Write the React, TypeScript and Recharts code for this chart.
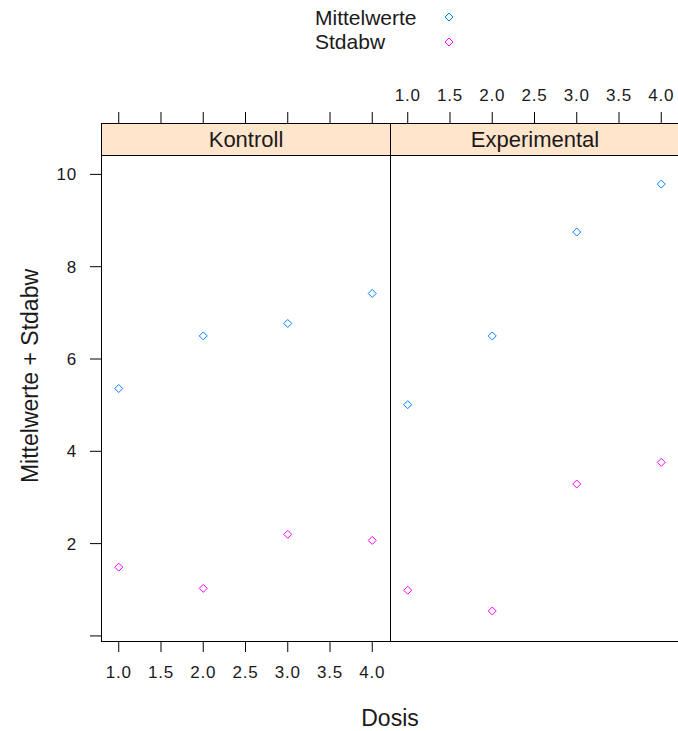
import React from "react";
import { ScatterChart, Scatter, XAxis, YAxis } from "recharts";

// ---- data ----
const doses = [1, 2, 3, 4];
const panelNames = ["Kontroll", "Experimental"];
const seriesNames = ["Mittelwerte", "Stdabw"];
const kontrollMittelwerte = [5.36, 6.5, 6.77, 7.42];
const kontrollStdabw = [1.49, 1.03, 2.2, 2.07];
const experimentalMittelwerte = [5.01, 6.5, 8.75, 9.79];
const experimentalStdabw = [0.99, 0.54, 3.29, 3.76];
const xTicks = [1, 1.5, 2, 2.5, 3, 3.5, 4];
const yTicks = [0, 2, 4, 6, 8, 10];
const yTickLabels = ["", "2", "4", "6", "8", "10"];
const xTitle = "Dosis";
const yTitle = "Mittelwerte + Stdabw";

// ---- style / layout ----
const seriesColors = ["#0080ff", "#ff00ff"];
const stripColor = "#ffe5cc";
const FONT = "'Liberation Sans', Arial, sans-serif";
const TEXT = "#1a1a1a";
const PLOT_TOP = 155;
const PLOT_BOTTOM = 641;
const STRIP_TOP = 123;
const LEFT = 101;
const PW = 289;
const X_DOMAIN: [number, number] = [0.79, 4.21];
const Y_DOMAIN: [number, number] = [-0.11, 10.42];

const toPoints = (ys: number[]) => doses.map((d, i) => ({ x: d, y: ys[i] }));
const panelSeries = [
  [toPoints(kontrollMittelwerte), toPoints(kontrollStdabw)],
  [toPoints(experimentalMittelwerte), toPoints(experimentalStdabw)],
];

const fmtX = (v: number) => v.toFixed(1);
const tickStyle = { fontSize: 17, fill: TEXT, fontFamily: FONT, letterSpacing: 0.8 };

const Diamond = (props: any) => {
  const { cx, cy, color } = props;
  if (cx == null || cy == null) return null;
  const r = 4;
  return (
    <path
      d={`M${cx},${cy - r}L${cx + r},${cy}L${cx},${cy + r}L${cx - r},${cy}Z`}
      fill="none"
      stroke={color}
      strokeWidth={1}
    />
  );
};

const TopTick = (props: any) => {
  const { x, payload, showLabel } = props;
  const yBase = STRIP_TOP;
  return (
    <g>
      <line x1={x} x2={x} y1={yBase} y2={yBase - 11} stroke="#000" strokeWidth={1} />
      {showLabel && (
        <text
          x={x}
          y={101}
          textAnchor="middle"
          fontSize={17}
          fill={TEXT}
          fontFamily={FONT}
          letterSpacing={0.8}
        >
          {fmtX(payload.value)}
        </text>
      )}
    </g>
  );
};

function Panel({ index }: { index: number }) {
  const isLeft = index === 0;
  const chartLeft = isLeft ? 0 : LEFT + PW;
  const yAxisW = isLeft ? LEFT : 0;
  const rightW = isLeft ? 0 : 40;
  const width = yAxisW + PW + rightW;
  return (
    <div style={{ position: "absolute", left: chartLeft, top: 0 }}>
      <ScatterChart
        width={width}
        height={731}
        margin={{ top: PLOT_TOP - 30, right: 0, bottom: 0, left: 0 }}
      >
        <XAxis
          xAxisId="bottom"
          type="number"
          dataKey="x"
          orientation="bottom"
          domain={X_DOMAIN}
          ticks={xTicks}
          allowDataOverflow
          height={731 - PLOT_BOTTOM}
          tickSize={11}
          tickMargin={14}
          axisLine={false}
          tickLine={{ stroke: "#000" }}
          tick={isLeft ? tickStyle : false}
          tickFormatter={fmtX}
          interval={0}
        />
        <XAxis
          xAxisId="top"
          type="number"
          dataKey="x"
          orientation="top"
          domain={X_DOMAIN}
          ticks={xTicks}
          allowDataOverflow
          height={30}
          tickSize={0}
          tickMargin={0}
          axisLine={false}
          tickLine={false}
          tick={<TopTick showLabel={!isLeft} />}
          interval={0}
        />
        {isLeft ? (
          <YAxis
            yAxisId="y"
            type="number"
            dataKey="y"
            orientation="left"
            domain={Y_DOMAIN}
            ticks={yTicks}
            allowDataOverflow
            width={LEFT}
            tickSize={11}
            tickMargin={13}
            axisLine={false}
            tickLine={{ stroke: "#000" }}
            tick={tickStyle}
            tickFormatter={(v: number) => yTickLabels[yTicks.indexOf(v)] ?? ""}
            interval={0}
          />
        ) : (
          <YAxis
            yAxisId="y"
            type="number"
            dataKey="y"
            orientation="right"
            domain={Y_DOMAIN}
            ticks={yTicks}
            allowDataOverflow
            width={rightW}
            tickSize={11}
            axisLine={false}
            tickLine={{ stroke: "#000" }}
            tick={false}
            interval={0}
          />
        )}
        {panelSeries[index].map((pts, si) => (
          <Scatter
            key={seriesNames[si]}
            name={seriesNames[si]}
            data={pts}
            xAxisId="bottom"
            yAxisId="y"
            isAnimationActive={false}
            shape={(p: any) => <Diamond {...p} color={seriesColors[si]} />}
          />
        ))}
      </ScatterChart>
      {/* panel frame */}
      <div
        style={{
          position: "absolute",
          left: yAxisW,
          top: PLOT_TOP,
          width: PW + 1,
          height: PLOT_BOTTOM - PLOT_TOP + 1,
          border: "1px solid #000",
          boxSizing: "border-box",
          pointerEvents: "none",
        }}
      />
      {/* strip */}
      <div
        style={{
          position: "absolute",
          left: yAxisW,
          top: STRIP_TOP,
          width: PW + 1,
          height: PLOT_TOP - STRIP_TOP + 1,
          border: "1px solid #000",
          boxSizing: "border-box",
          background: stripColor,
          textAlign: "center",
          fontFamily: FONT,
          fontSize: 22,
          lineHeight: `${PLOT_TOP - STRIP_TOP - 1}px`,
          color: TEXT,
        }}
      >
        {panelNames[index]}
      </div>
    </div>
  );
}

export default function App() {
  return (
    <div
      style={{
        position: "absolute",
        left: 0,
        top: 0,
        width: 678,
        height: 731,
        overflow: "hidden",
        background: "#fff",
        fontFamily: FONT,
      }}
    >
      <Panel index={0} />
      <Panel index={1} />
      {/* legend */}
      <svg width={678} height={60} style={{ position: "absolute", left: 0, top: 0 }}>
        {seriesNames.map((n, i) => (
          <g key={n}>
            <text x={315} y={25 + i * 24} fontSize={21} fill={TEXT} fontFamily={FONT}>
              {n}
            </text>
            <path
              d={`M449,${13 + i * 25}L453,${17 + i * 25}L449,${21 + i * 25}L445,${17 + i * 25}Z`}
              fill="none"
              stroke={seriesColors[i]}
              strokeWidth={1}
            />
          </g>
        ))}
      </svg>
      {/* axis titles */}
      <div
        style={{
          position: "absolute",
          left: 0,
          width: 780,
          top: 703,
          textAlign: "center",
          fontSize: 23,
          color: TEXT,
          fontFamily: FONT,
          lineHeight: "30px",
        }}
      >
        {xTitle}
      </div>
      <svg width={60} height={731} style={{ position: "absolute", left: 0, top: 0 }}>
        <text
          x={0}
          y={0}
          transform={`translate(38, 376) rotate(-90)`}
          textAnchor="middle"
          fontSize={23}
          fill={TEXT}
          fontFamily={FONT}
        >
          {yTitle}
        </text>
      </svg>
    </div>
  );
}
